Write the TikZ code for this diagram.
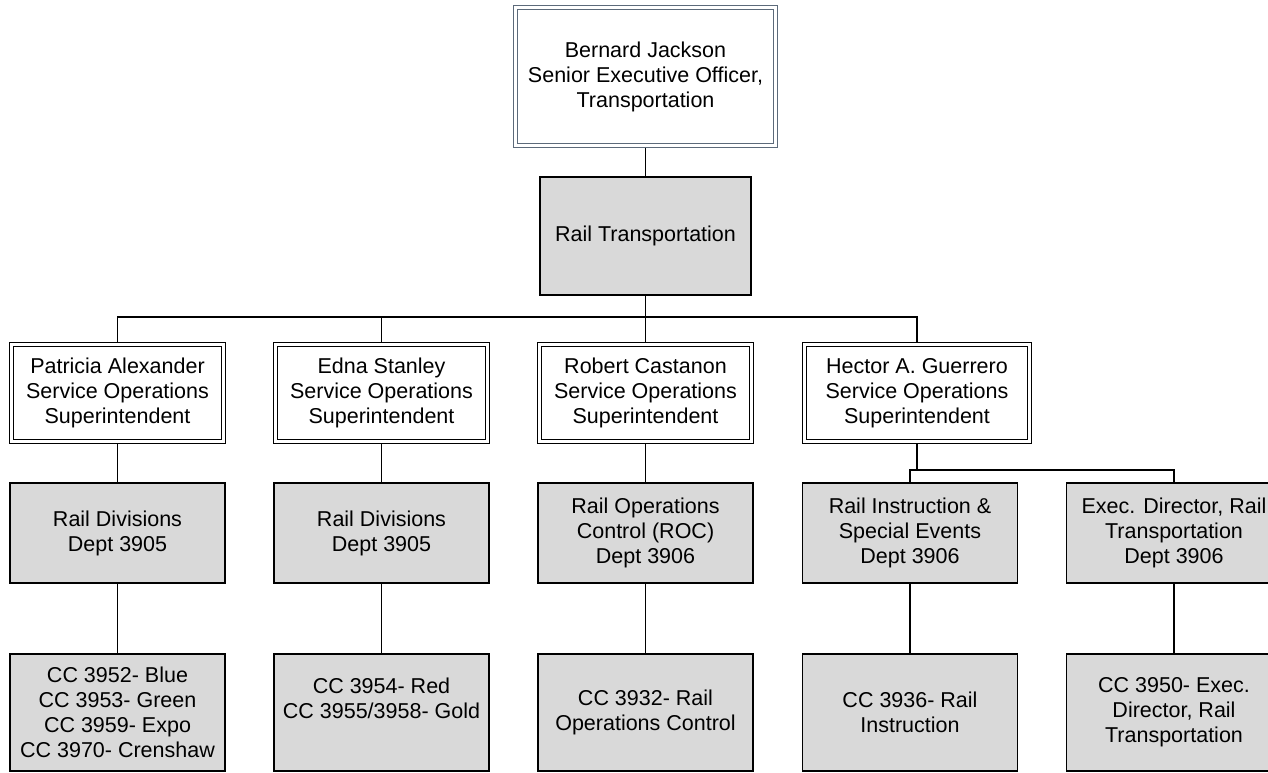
\documentclass[tikz,border=0pt]{standalone}
\usepackage{fontspec}
\setmainfont{Liberation Sans}
\usetikzlibrary{backgrounds}
\definecolor{boxgray}{RGB}{217,217,217}
\definecolor{headline}{RGB}{92,106,122}

\begin{document}
\begin{tikzpicture}[x=1pt,y=-1pt,
  head/.style={rectangle,draw=headline,double=white,double distance=2.6pt,line width=1.2pt,fill=white, minimum width=260pt,minimum height=138pt,align=center,font=\fontsize{21.5}{25}\selectfont},
  sup/.style={rectangle,draw=black,double=white,double distance=2.6pt,line width=1.2pt,fill=white, minimum width=212pt,minimum height=97pt,align=center,font=\fontsize{21.5}{25}\selectfont},
  unit/.style={rectangle,draw=black,fill=boxgray,line width=1.8pt, minimum width=215pt,minimum height=100pt,align=center,font=\fontsize{21.5}{25}\selectfont},
  cc/.style={unit,minimum height=117pt},
  link/.style={line width=1.8pt}
]
  \useasboundingbox (0,0) rectangle (1268,773);

  \node[head](jackson) at (645.5,76.5) {Bernard Jackson\\Senior Executive Officer,\\Transportation};
  \node[unit](railtr) at (645.5,236) [minimum width=211.5pt,minimum height=118.5pt] {Rail Transportation};

  \node[sup](patricia) at (117.5,393) {Patricia Alexander\\Service Operations\\Superintendent};
  \node[sup](edna)     at (381.5,393) {Edna Stanley\\Service Operations\\Superintendent};
  \node[sup](robert)   at (645.5,393) {Robert Castanon\\Service Operations\\Superintendent};
  \node[sup](hector)   at (917,393) [minimum width=225pt] {Hector A. Guerrero\\Service Operations\\Superintendent};

  \node[unit](divA) at (117.5,533) {Rail Divisions\\Dept 3905};
  \node[unit](divB) at (381.5,533) {Rail Divisions\\Dept 3905};
  \node[unit](roc)  at (645.5,533) {Rail Operations\\Control (ROC)\\Dept 3906};
  \node[unit](ris)  at (910,533)   {Rail Instruction \&\\Special Events\\Dept 3906};
  \node[unit](exec) at (1174,533)  {Exec. Director, Rail\\Transportation\\Dept 3906};

  \node[cc](ccA)    at (117.5,712.5) {CC 3952- Blue\\CC 3953- Green\\CC 3959- Expo\\CC 3970- Crenshaw};
  \node[cc](ccB)    at (381.5,712.5) [text depth=28pt] {CC 3954- Red\\CC 3955/3958- Gold};
  \node[cc](ccRoc)  at (645.5,712.5) {CC 3932- Rail\\Operations Control};
  \node[cc](ccRis)  at (910,712.5)   {CC 3936- Rail\\Instruction};
  \node[cc](ccExec) at (1174,712.5)  {CC 3950- Exec.\\Director, Rail\\Transportation};

  \coordinate (bus) at (645.5,317);
  \coordinate (split) at (917,470);

  \begin{scope}[on background layer]
    \draw[link](jackson)--(railtr);
    \draw[link](railtr.south)--(bus);
    \draw[link](patricia.north)--(patricia.north |- bus)-|(hector.north);
    \draw[link](edna.north)--(edna.north |- bus);
    \draw[link](robert.north)--(bus);

    \draw[link](patricia)--(divA);
    \draw[link](edna)--(divB);
    \draw[link](robert)--(roc);
    \draw[link](hector.south)--(split)-|(ris.north);
    \draw[link](split)-|(exec.north);

    \draw[link](divA)--(ccA);
    \draw[link](divB)--(ccB);
    \draw[link](roc)--(ccRoc);
    \draw[link](ris)--(ccRis);
    \draw[link](exec)--(ccExec);
  \end{scope}
\end{tikzpicture}
\end{document}
